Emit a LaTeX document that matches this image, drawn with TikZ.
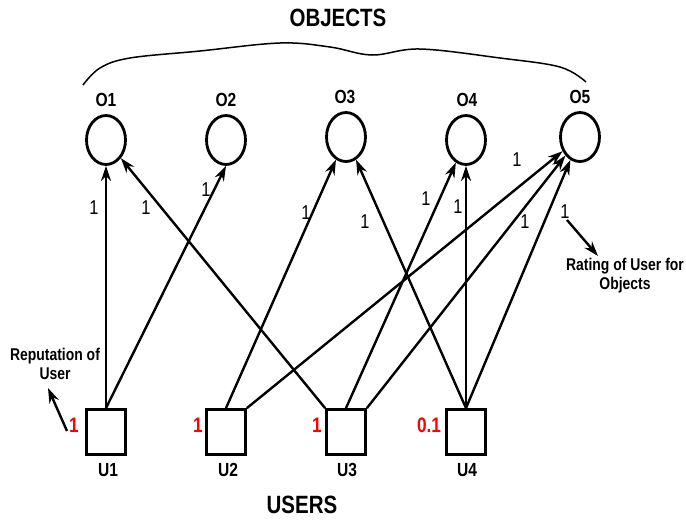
\documentclass[tikz,border=0pt]{standalone}
\usepackage{fontspec}
\setmainfont[FakeStretch=0.82]{Liberation Sans}
\usetikzlibrary{shapes.geometric,arrows.meta}
\begin{document}
\begin{tikzpicture}[x=1pt,y=-1pt,
 obj/.style={ellipse,draw,line width=2.8pt,minimum width=39pt,minimum height=49pt,inner sep=0pt},
 usr/.style={rectangle,draw,line width=2.8pt,minimum width=39pt,minimum height=45pt,inner sep=0pt},
 lbl/.style={font=\fontsize{19}{21}\selectfont\bfseries},
 ttl/.style={font=\fontsize{25}{27}\selectfont\bfseries},
 num/.style={font=\fontsize{20}{22}\selectfont},
 rep/.style={font=\fontsize{21}{23}\selectfont\bfseries,text=red},
 edge/.style={line width=2.4pt,-{Stealth[length=15pt,width=10pt]}},
 note/.style={font=\fontsize{17}{19}\selectfont\bfseries,align=center,inner sep=0pt},
]
\useasboundingbox (0,0) rectangle (686,520);

% title and brace
\node[ttl] (objects) at (338,18) {OBJECTS};
\draw[line width=1.5pt] plot[smooth,tension=0.6] coordinates {(83,85) (100,68) (130,58) (200,51) (280,43) (330,47) (372,55) (420,49) (500,58) (560,67) (586,82)};

% objects
\node[obj] (O1) at (106,140) {};
\node[obj] (O2) at (226,140) {};
\node[obj] (O3) at (346,137) {};
\node[obj] (O4) at (466,140) {};
\node[obj] (O5) at (580,137) {};
\node[lbl] (lO1) at (106,100) {O1};
\node[lbl] (lO2) at (226,100) {O2};
\node[lbl] (lO3) at (345,97) {O3};
\node[lbl] (lO4) at (467,100) {O4};
\node[lbl] (lO5) at (580,97) {O5};

% users
\node[usr] (U1) at (106,432) {};
\node[usr] (U2) at (226,432) {};
\node[usr] (U3) at (346,432) {};
\node[usr] (U4) at (466,432) {};
\node[lbl] (lU1) at (108,470) {U1};
\node[lbl] (lU2) at (228,470) {U2};
\node[lbl] (lU3) at (347,470) {U3};
\node[lbl] (lU4) at (467,470) {U4};
\node[ttl] (users) at (302,505) {USERS};

% reputations
\node[rep] (r1) at (74,425) {1};
\node[rep] (r2) at (198,425) {1};
\node[rep] (r3) at (317,425) {1};
\node[rep] (r4) at (429,425) {0.1};

% edges
\draw[edge] (U1.north) -- (O1);
\draw[edge] (U1.north) -- (O2.south);
\draw[edge] (U2.north) -- (O3);
\draw[edge] (U2.north east) -- (O5);
\draw[edge] (U3.north west) -- (O1);
\draw[edge] (U3.north) -- (O4);
\draw[edge] (U3.north east) -- (O5);
\draw[edge] (U4.north) -- (O3);
\draw[edge] (U4.north) -- (O4);
\draw[edge] (U4.north) -- (O5);

% ratings
\node[num] (e1) at (94,208) {1};
\node[num] (e2) at (146,208) {1};
\node[num] (e3) at (206,190) {1};
\node[num] (e4) at (306,213) {1};
\node[num] (e5) at (365,222) {1};
\node[num] (e6) at (426,199) {1};
\node[num] (e7) at (458,207) {1};
\node[num] (e8) at (517,160) {1};
\node[num] (e9) at (525,222) {1};
\node[num] (e10) at (565,212) {1};

% annotations
\node[note] (repnote) at (55,364) {Reputation of\\User};
\coordinate (ra) at (67,431);
\coordinate (rb) at (48,388);
\draw[line width=2.4pt,-{Stealth[length=15pt,width=10pt]}] (ra) -- (rb);
\node[note] (ratnote) at (625,276) {Rating of User for\\Objects};
\coordinate (sa) at (567,220);
\coordinate (sb) at (598,256);
\draw[line width=2.4pt,-{Stealth[length=15pt,width=10pt]}] (sa) -- (sb);
\end{tikzpicture}
\end{document}
